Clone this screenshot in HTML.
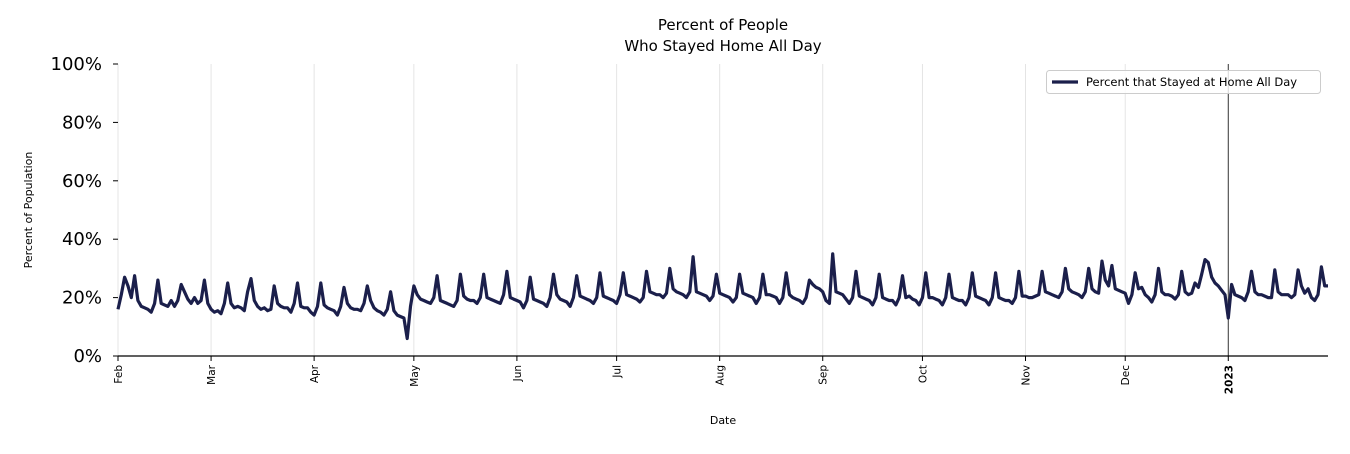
<!DOCTYPE html>
<html><head><meta charset="utf-8">
<style>
html,body{margin:0;padding:0;background:#fff;}
body{width:1350px;height:450px;overflow:hidden;font-family:"DejaVu Sans","Liberation Sans",sans-serif;}
</style></head>
<body>
<svg id="chart" width="1350" height="450" xmlns="http://www.w3.org/2000/svg" font-family="DejaVu Sans, Liberation Sans, sans-serif">
<text x="723" y="30" text-anchor="middle" font-size="15" fill="#000">Percent of People</text>
<text x="723" y="51" text-anchor="middle" font-size="15" fill="#000">Who Stayed Home All Day</text>
<g id="grid"></g>
<g id="yaxis"></g>
<g id="xaxis"></g>
<path id="series" fill="none" stroke="#1b1f4b" stroke-width="3.2" stroke-linejoin="round"/>
<text transform="translate(32,210) rotate(-90)" text-anchor="middle" font-size="11">Percent of Population</text>
<text x="723" y="424" text-anchor="middle" font-size="11">Date</text>
<g>
<rect x="1046.5" y="70.5" width="274" height="23" rx="3" fill="#fff" fill-opacity="0.8" stroke="#ccc"/>
<line x1="1052" y1="82" x2="1078" y2="82" stroke="#1b1f4b" stroke-width="3.2"/>
<text x="1086" y="86" font-size="11.5">Percent that Stayed at Home All Day</text>
</g>
</svg>
<script>
const startDate = [2022, 1, 1];
const values = [
 16,21,27,24,20,27.5,19,
 17,16.5,16,15,18,26,18,
 17.5,17,19,17,19,24.5,22,
 19.5,18,20,18,19,26,18,
 16,15,15.5,14.5,18,25,18,
 16.5,17,16.5,15.5,22,26.5,19,
 17,16,16.5,15.5,16,24,18,
 17,16.5,16.5,15,18,25,17,
 16.5,16.5,15,14,17,25,17.5,
 16.5,16,15.5,14,17,23.5,18,
 16.5,16,16,15.5,18,24,19,
 16.5,15.5,15,14,16,22,15.5,
 14,13.5,13,6,17,24,21,
 19.5,19,18.5,18,20,27.5,19,
 18.5,18,17.5,17,19,28,20.5,
 19.5,19,19,18,20,28,20,
 19.5,19,18.5,18,21,29,20,
 19.5,19,18.5,16.5,19,27,19.5,
 19,18.5,18,17,20,28,21,
 19.5,19,18.5,17,20,27.5,20.5,
 20,19.5,19,18,20,28.5,20.5,
 20,19.5,19,18,21,28.5,21,
 20.5,20,19.5,18.5,20,29,22,
 21.5,21,21,20,21.5,30,23,
 22,21.5,21,20,22,34,22,
 21.5,21,20.5,19,20.5,28,21.5,
 21,20.5,20,18.5,20,28,21.5,
 21,20.5,20,18,20,28,21,
 21,20.5,20,18,20,28.5,21,
 20,19.5,19,18,20,26,24.5,
 23.5,23,22,19,18,35,22,
 21.5,21,19.5,18,20,29,20.5,
 20,19.5,19,17.5,20,28,20,
 19.5,19,19,17.5,20,27.5,20,
 20.5,19.5,19,17.5,20,28.5,20,
 20,19.5,19,17.5,20,28,20,
 19.5,19,19,17.5,20,28.5,20.5,
 20,19.5,19,17.5,20,28.5,20,
 19.5,19,19,18,20,29,20.5,
 20.5,20,20,20.5,21,29,22,
 21.5,21,20.5,20,22,30,23,
 22,21.5,21,20,22,30,23,
 22,21.5,32.5,26,24,31,23,
 22.5,22,21.5,18,21,28.5,23,
 23.5,21,20,18.5,21,30,22,
 21,21,20.5,19.5,21,29,22,
 21,21.5,25,23.5,28,33,32,
 27,25,24,22.5,21,13,24.5,
 21,20.5,20,19,22,29,22,
 21,21,20.5,20,20,29.5,22,
 21,21,21,20,21,29.5,24,
 21.5,23,20,19,21,30.5,24,
 24
];
const yTicks = [0,20,40,60,80,100];
const yTickLabels = ["0%","20%","40%","60%","80%","100%"];
const monthLabels = ["Feb","Mar","Apr","May","Jun","Jul","Aug","Sep","Oct","Nov","Dec","2023"];
const monthDates = [[2022,1,1],[2022,2,1],[2022,3,1],[2022,4,1],[2022,5,1],[2022,6,1],[2022,7,1],[2022,8,1],[2022,9,1],[2022,10,1],[2022,11,1],[2023,0,1]];

const NS="http://www.w3.org/2000/svg";
const X0=118, X1=1328, Y0=356, Y1=64;
const t0=Date.UTC(...startDate), DAY=86400000, totalDays=364;
function xDate(d){return X0+(Date.UTC(...d)-t0)/DAY*(X1-X0)/totalDays;}
function xIdx(i){return X0+i*(X1-X0)/totalDays;}
function y(v){return Y0-(v/100)*(Y0-Y1);}
function mk(tag,attrs,parent){const e=document.createElementNS(NS,tag);for(const k in attrs)e.setAttribute(k,attrs[k]);parent.appendChild(e);return e;}

const grid=document.getElementById('grid'), xa=document.getElementById('xaxis'), ya=document.getElementById('yaxis');
monthDates.forEach((d,i)=>{
  const x=xDate(d);
  const g=mk('line',{x1:x,x2:x,y1:Y1,y2:Y0,stroke:i===11?'#333':'#e4e4e4','stroke-width':1},grid);
  
  
  const tk=mk('line',{x1:x,x2:x,y1:Y0,y2:Y0+5,stroke:'#000'},xa);
  
  
  const t=mk('text',{transform:`translate(${x+4},${Y0+9}) rotate(-90)`,'text-anchor':'end','font-size':10.5,'font-weight':i===11?'bold':'normal'},xa);
  
  
  t.textContent=monthLabels[i];
});
const sp=mk('line',{x1:X0,x2:X1,y1:Y0,y2:Y0,stroke:'#000','stroke-width':1.3},xa);


yTicks.forEach((v,i)=>{
  const tk=mk('line',{x1:X0-5,x2:X0,y1:y(v),y2:y(v),stroke:'#000'},ya);
  
  
  const t=mk('text',{x:X0-16,y:y(v)+6,'text-anchor':'end','font-size':18},ya);
  
  
  t.textContent=yTickLabels[i];
});
let dstr='';
values.forEach((v,i)=>{dstr+=(i?'L':'M')+xIdx(i).toFixed(1)+','+y(v).toFixed(1);});
document.getElementById('series').setAttribute('d',dstr);
</script>
</body></html>
